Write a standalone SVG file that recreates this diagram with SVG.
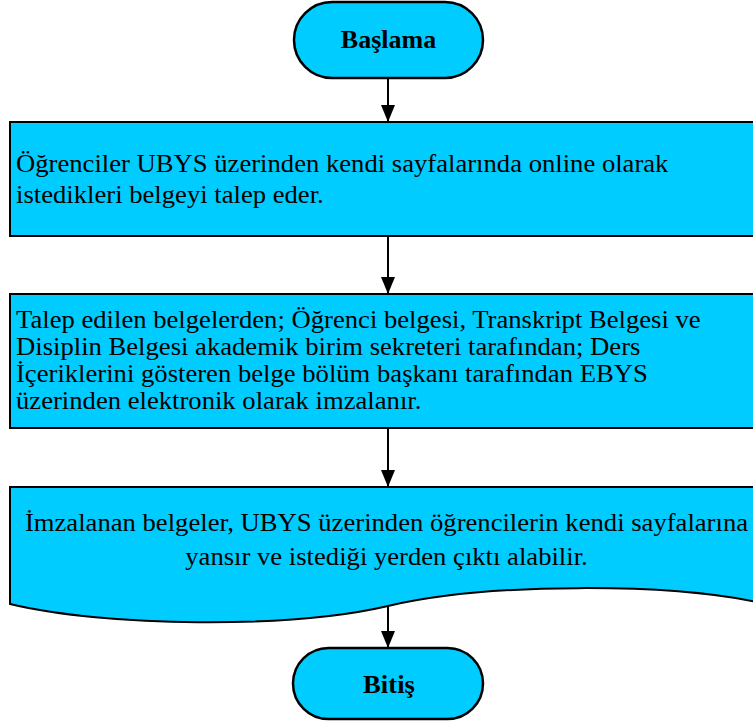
<svg xmlns="http://www.w3.org/2000/svg" width="753" height="725" viewBox="0 0 753 725">
<defs>
<style>
.shape{fill:#00CCFF;stroke:#000;stroke-width:2}
.term{fill:#00CCFF;stroke:#000;stroke-width:2.5}
.t{font-family:"Liberation Serif","Times New Roman",serif;font-size:25px;fill:#000}
.b{font-weight:bold;text-anchor:middle}
.c{text-anchor:middle}
.edge{stroke:#000;stroke-width:2;fill:none}
</style>
<marker id="ah" markerUnits="userSpaceOnUse" markerWidth="18" markerHeight="18" viewBox="0 0 18 18" refX="17" refY="9" orient="auto">
<path d="M0,2 L17,9 L0,16 Z" fill="#000"/>
</marker>
</defs>
<rect width="753" height="725" fill="#fff"/>
<g id="connectors">
<line class="edge" x1="388" y1="78" x2="388" y2="122" marker-end="url(#ah)"/>
<line class="edge" x1="388" y1="236" x2="388" y2="294" marker-end="url(#ah)"/>
<line class="edge" x1="388" y1="428" x2="388" y2="487" marker-end="url(#ah)"/>
<line class="edge" x1="388" y1="606" x2="388" y2="648" marker-end="url(#ah)"/>
</g>
<g id="start">
<rect class="term" x="294" y="2" width="189" height="76" rx="38" ry="38"/>
<g transform="translate(388.5,48) scale(1.04,1)"><text class="t b" x="0" y="0">Başlama</text></g>
</g>
<g id="step1">
<rect class="shape" x="10" y="122" width="756" height="114"/>
<g transform="translate(16,0) scale(1.066,1)">
<text class="t" x="0" y="172">Öğrenciler UBYS üzerinden kendi sayfalarında online olarak</text>
<text class="t" x="0" y="203">istedikleri belgeyi talep eder.</text>
</g>
</g>
<g id="step2">
<rect class="shape" x="10" y="294" width="756" height="134"/>
<g transform="translate(16,0) scale(1.066,1)">
<text class="t" x="0" y="328">Talep edilen belgelerden; Öğrenci belgesi, Transkript Belgesi ve</text>
<text class="t" x="0" y="355">Disiplin Belgesi akademik birim sekreteri tarafından; Ders</text>
<text class="t" x="0" y="382">İçeriklerini gösteren belge bölüm başkanı tarafından EBYS</text>
<text class="t" x="0" y="409">üzerinden elektronik olarak imzalanır.</text>
</g>
</g>
<g id="document">
<path class="shape" d="M10,487 L766,487 L766,604 C670,582 486,583 388,606 C290,629 105,627 10,604 Z"/>
<g transform="translate(386.5,0) scale(1.066,1)">
<text class="t c" x="0" y="531">İmzalanan belgeler, UBYS üzerinden öğrencilerin kendi sayfalarına</text>
<text class="t c" x="0" y="565">yansır ve istediği yerden çıktı alabilir.</text>
</g>
</g>
<g id="end">
<rect class="term" x="293" y="648" width="190" height="71" rx="35.5" ry="35.5"/>
<g transform="translate(389,693) scale(1.066,1)"><text class="t b" x="0" y="0">Bitiş</text></g>
</g>
</svg>
